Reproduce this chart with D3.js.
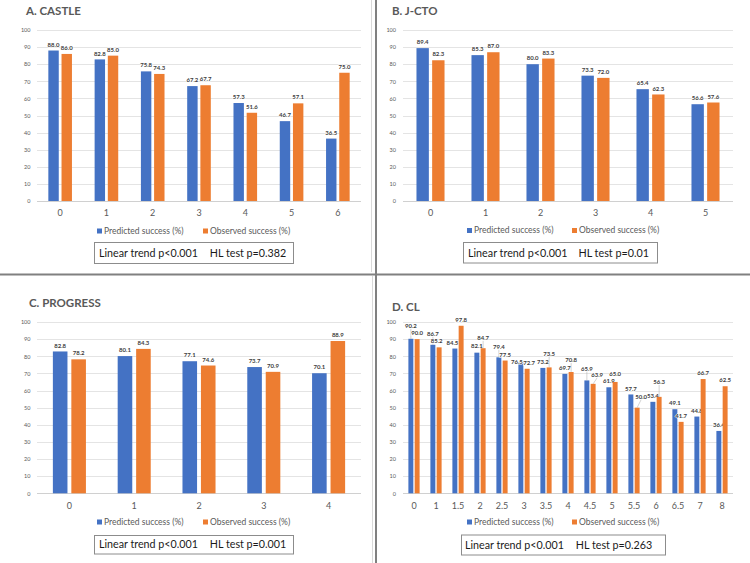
<!DOCTYPE html>
<html>
<head>
<meta charset="utf-8">
<script src="https://cdn.jsdelivr.net/npm/d3@7"></script>
<style>
  html, body { margin: 0; padding: 0; background: #fff; }
  svg { display: block; font-family: Lato, "Open Sans", sans-serif; }
</style>
</head>
<body>
<svg id="chart" width="750" height="563"></svg>
<script>
// ---------- DATA ----------
const seriesNames = ["Predicted success (%)", "Observed success (%)"];
const yTicks = [0, 10, 20, 30, 40, 50, 60, 70, 80, 90, 100];

const castleCats = ["0", "1", "2", "3", "4", "5", "6"];
const castlePred = [88.0, 82.8, 75.8, 67.2, 57.3, 46.7, 36.5];
const castleObs  = [86.0, 85.0, 74.3, 67.7, 51.6, 57.1, 75.0];

const jctoCats = ["0", "1", "2", "3", "4", "5"];
const jctoPred = [89.4, 85.3, 80.0, 73.3, 65.4, 56.6];
const jctoObs  = [82.3, 87.0, 83.3, 72.0, 62.3, 57.6];

const progressCats = ["0", "1", "2", "3", "4"];
const progressPred = [82.8, 80.1, 77.1, 73.7, 70.1];
const progressObs  = [78.2, 84.3, 74.6, 70.9, 88.9];

const clCats = ["0", "1", "1.5", "2", "2.5", "3", "3.5", "4", "4.5", "5", "5.5", "6", "6.5", "7", "8"];
const clPred = [90.2, 86.7, 84.5, 82.1, 79.4, 76.5, 73.2, 69.7, 65.9, 61.9, 57.7, 53.4, 49.1, 44.8, 36.4];
const clObs  = [90.0, 85.2, 97.8, 84.7, 77.5, 72.7, 73.5, 70.8, 63.9, 65.0, 50.0, 56.3, 41.7, 66.7, 62.5];

const titles = ["A. CASTLE", "B. J-CTO", "C. PROGRESS", "D. CL"];
const trendTexts = ["Linear trend p<0.001", "Linear trend p<0.001", "Linear trend p<0.001", "Linear trend p<0.001"];
const hlTexts = ["HL test p=0.382", "HL test p=0.01", "HL test p=0.001", "HL test p=0.263"];

// label nudges for the crowded CL panel (style only)
const clPredLift = [-7, -5, 0, -1, -4.5, 6, 0, 0, -6, 0, 0, 0, 0, 0, 0];
const clPredShift = [0, 0, -2.5, 0, 0, -4, 0, 0, 0, 0, 0, 0, 0, 0, 0];
const clObsLift  = [0, 0, 0, -4.5, 0, 0, -7.5, -6, -3, -2, -5, -9, 0, 0, 0];
const clObsShift = [0, -2.5, 0, 0, 0, 2, 0, 0, 4, 0, 4, 0, 0, 0, 0];

// ---------- LAYOUT ----------
const BLUE = "#4472C4", ORANGE = "#ED7D31";
const panels = [
  { title: titles[0], cats: castleCats, pred: castlePred, obs: castleObs,
    titleX: 26, titleY: 15, left: 37, right: 361, top: 30, bottom: 201, tickX: 30.5,
    legY: 231, legX: [97, 203], box: [94, 242, 199, 21], textX: 99, textW: 187, gap: 12,
    trend: trendTexts[0], hl: hlTexts[0] },
  { title: titles[1], cats: jctoCats, pred: jctoPred, obs: jctoObs,
    titleX: 392, titleY: 15, left: 403, right: 733, top: 30, bottom: 201, tickX: 396,
    legY: 230.5, legX: [467, 572], box: [463, 242, 194, 20.5], textX: 468, textW: 181, gap: 11,
    trend: trendTexts[1], hl: hlTexts[1] },
  { title: titles[2], cats: progressCats, pred: progressPred, obs: progressObs,
    titleX: 29, titleY: 307, left: 37, right: 361, top: 322, bottom: 493.3, tickX: 30.5,
    legY: 522, legX: [97, 203], box: [94, 535, 199, 18.5], textX: 99, textW: 187, gap: 12,
    trend: trendTexts[2], hl: hlTexts[2] },
  { title: titles[3], cats: clCats, pred: clPred, obs: clObs,
    titleX: 392, titleY: 310.5, left: 403, right: 733, top: 322, bottom: 493.3, tickX: 396,
    legY: 522, legX: [467, 572], box: [461, 534.5, 204, 20], textX: 465, textW: 187, gap: 12,
    trend: trendTexts[3], hl: hlTexts[3],
    predLift: clPredLift, predShift: clPredShift, obsLift: clObsLift, obsShift: clObsShift }
];

const svg = d3.select("#chart");
svg.append("rect").attr("width", 750).attr("height", 563).attr("fill", "#fff");

function drawPanel(p) {
  const g = svg.append("g");
  const x0 = d3.scaleBand().domain(p.cats).range([p.left, p.right])
    .paddingInner(0.49).paddingOuter(0.245);
  const x1 = d3.scaleBand().domain(["pred", "obs"]).range([0, x0.bandwidth()]).paddingInner(0.21);
  const y = d3.scaleLinear().domain([0, 100]).range([p.bottom, p.top]);

  // title
  g.append("text").attr("x", p.titleX).attr("y", p.titleY)
    .attr("font-size", 11.5).attr("font-weight", "bold").attr("fill", "#595959")
    .text(p.title);

  // gridlines
  g.selectAll(".grid").data(yTicks).join("line")
    .attr("x1", p.left).attr("x2", p.right)
    .attr("y1", d => Math.round(y(d)) + 0.5).attr("y2", d => Math.round(y(d)) + 0.5)
    .attr("stroke", d => d === 0 ? "#d0d0d0" : "#e4e4e4").attr("stroke-width", 1);

  // y axis
  const ya = g.append("g").attr("transform", `translate(${p.tickX},0)`)
    .call(d3.axisLeft(y).tickValues(yTicks).tickSize(0).tickPadding(0));
  ya.select(".domain").remove();
  ya.selectAll("text").attr("font-size", 5.5).attr("fill", "#595959").attr("font-family", "Lato, sans-serif");

  // x axis
  const xa = g.append("g").attr("transform", `translate(0,${p.bottom})`)
    .call(d3.axisBottom(x0).tickSize(0).tickPadding(9));
  xa.select(".domain").remove();
  xa.selectAll("text").attr("font-size", 9).attr("fill", "#595959").attr("font-family", "Lato, sans-serif");

  const rows = p.cats.map((c, i) => ({ c, i, pred: p.pred[i], obs: p.obs[i] }));
  const series = [
    { key: "pred", color: BLUE, lift: p.predLift, shift: p.predShift },
    { key: "obs", color: ORANGE, lift: p.obsLift, shift: p.obsShift }
  ];

  series.forEach(s => {
    g.selectAll(".bar-" + s.key).data(rows).join("rect")
      .attr("x", d => x0(d.c) + x1(s.key))
      .attr("y", d => y(d[s.key]))
      .attr("width", x1.bandwidth())
      .attr("height", d => y(0) - y(d[s.key]))
      .attr("fill", s.color);

    // leader lines
    if (s.lift) {
      g.selectAll(".lead-" + s.key).data(rows.filter(d => s.lift[d.i] <= -3)).join("line")
        .attr("x1", d => x0(d.c) + x1(s.key) + x1.bandwidth() / 2 + (s.shift ? s.shift[d.i] : 0))
        .attr("x2", d => x0(d.c) + x1(s.key) + x1.bandwidth() / 2)
        .attr("y1", d => y(d[s.key]) - 6 + s.lift[d.i] + 3)
        .attr("y2", d => y(d[s.key]))
        .attr("stroke", "#a6a6a6").attr("stroke-width", 0.5);
    }

    g.selectAll(".lab-" + s.key).data(rows).join("text")
      .attr("x", d => x0(d.c) + x1(s.key) + x1.bandwidth() / 2 + (s.shift ? s.shift[d.i] : 0))
      .attr("y", d => y(d[s.key]) - 6 + (s.lift ? s.lift[d.i] : 0))
      .attr("dy", "0.35em")
      .attr("text-anchor", "middle")
      .attr("font-size", 6).attr("font-weight", "bold").attr("fill", "#404040")
      .attr("stroke", "#fff").attr("stroke-width", 1.2).attr("paint-order", "stroke")
      .text(d => d[s.key].toFixed(1));
  });

  // legend
  const lg = g.append("g");
  [BLUE, ORANGE].forEach((col, k) => {
    lg.append("rect").attr("x", p.legX[k]).attr("y", p.legY - 2.5).attr("width", 5).attr("height", 5).attr("fill", col);
    lg.append("text").attr("x", p.legX[k] + 7).attr("y", p.legY).attr("dy", "0.35em")
      .attr("font-size", 8.5).attr("fill", "#595959").text(seriesNames[k]);
  });

  // stats box
  const [bx, by, bw, bh] = p.box;
  g.append("rect").attr("x", bx + 0.5).attr("y", by + 0.5).attr("width", bw).attr("height", bh)
    .attr("fill", "#fff").attr("stroke", "#8c8c8c").attr("stroke-width", 1);
  let fs = 12;
  const t = g.append("text").attr("x", p.textX).attr("y", by + bh / 2 + 0.5).attr("dy", "0.35em")
    .attr("font-size", fs).attr("fill", "#1a1a1a");
  t.append("tspan").text(p.trend);
  t.append("tspan").attr("dx", p.gap).text(p.hl);
  // fit the text run to the width measured on the reference
  for (let k = 0; k < 3; k++) {
    const w = t.node().getBBox().width;
    fs = fs * (p.textW - p.gap) / (w - p.gap);
    t.attr("font-size", fs);
  }
}

panels.forEach(drawPanel);

// separators
svg.append("line").attr("x1", 371.5).attr("x2", 371.5).attr("y1", 0).attr("y2", 272)
  .attr("stroke", "#d9d9d9").attr("stroke-width", 1);
svg.append("line").attr("x1", 372.5).attr("x2", 372.5).attr("y1", 276).attr("y2", 563)
  .attr("stroke", "#d9d9d9").attr("stroke-width", 1);
svg.append("line").attr("x1", 0).attr("x2", 750).attr("y1", 274.5).attr("y2", 274.5)
  .attr("stroke", "#808080").attr("stroke-width", 2);
svg.append("line").attr("x1", 376).attr("x2", 376).attr("y1", 0).attr("y2", 563)
  .attr("stroke", "#808080").attr("stroke-width", 2);
</script>
</body>
</html>
